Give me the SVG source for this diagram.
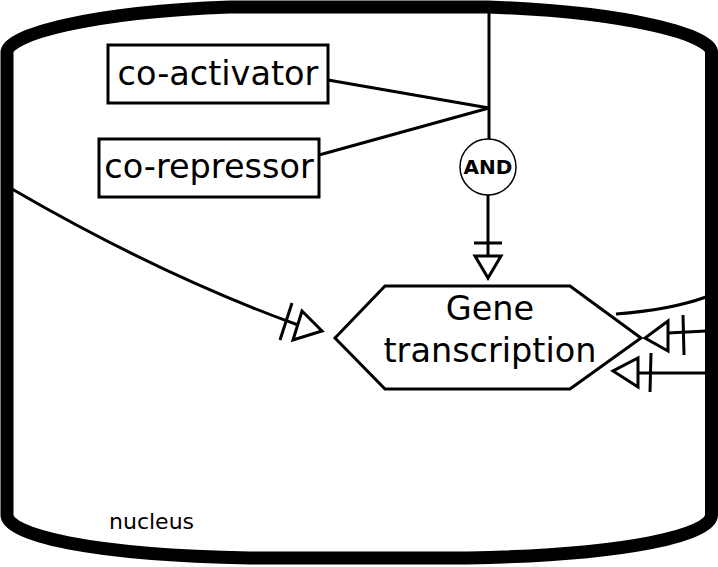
<svg xmlns="http://www.w3.org/2000/svg" width="718" height="567" viewBox="0 0 718 567">
<style>
.ln{fill:none;stroke:#000;stroke-width:3}
.box{fill:#fff;stroke:#000;stroke-width:3}
.t{font-family:"DejaVu Sans",sans-serif;fill:#000}
.big{font-size:33.5px}
.ah{fill:#fff;stroke:#000;stroke-width:3;stroke-linejoin:miter}
</style>
<g id="nucleus">
<path d="M7,52 C7,35 90,12 230,7 L488,7 C628,12 711.5,35 711.5,52 L711.5,515 C711.5,535 628,555 468,558 L250,558 C90,555 7,535 7,515 Z" fill="#fff" stroke="#000" stroke-width="13"/>
<text class="t" x="109" y="529" font-size="22">nucleus</text>
</g>
<g id="connectors">
<line class="ln" x1="489" y1="12" x2="489" y2="139"/>
<line class="ln" x1="328" y1="80" x2="489" y2="108"/>
<line class="ln" x1="319" y1="155" x2="489" y2="108"/>
<line class="ln" x1="488" y1="195" x2="488" y2="256"/>
<line class="ln" x1="474" y1="243" x2="502" y2="243"/>
<polygon class="ah" points="475,256 501,256 488,278"/>
<path class="ln" d="M12,189 Q160,275 298,325"/>
<line class="ln" x1="292" y1="303" x2="280" y2="340"/>
<polygon class="ah" points="302,311 293,340 322,331"/>
<path class="ln" d="M616,314 Q670,310 706,297"/>
<line class="ln" x1="668" y1="333" x2="706" y2="331"/>
<line class="ln" x1="683" y1="315" x2="684" y2="355"/>
<polygon class="ah" points="668,321 668,351 645,338"/>
<line class="ln" x1="638" y1="373" x2="706" y2="373"/>
<line class="ln" x1="651" y1="353" x2="650" y2="392"/>
<polygon class="ah" points="638,358 638,387 613,371"/>
</g>
<g id="coactivator">
<rect class="box" x="108" y="45" width="220" height="58"/>
<text class="t big" x="218" y="85" text-anchor="middle">co-activator</text>
</g>
<g id="corepressor">
<rect class="box" x="99" y="139" width="220" height="58"/>
<text class="t big" x="209" y="178" text-anchor="middle">co-repressor</text>
</g>
<g id="and">
<circle cx="488" cy="167" r="28" fill="#fff" stroke="#000" stroke-width="1.5"/>
<text class="t" x="488" y="174" font-size="20" font-weight="bold" text-anchor="middle">AND</text>
</g>
<g id="gene">
<polygon class="box" points="335,338 385,286 570,286 641,338 570,389 385,389"/>
<text class="t big" x="490" y="320" text-anchor="middle">Gene</text>
<text class="t big" x="490" y="362" text-anchor="middle">transcription</text>
</g>
</svg>
